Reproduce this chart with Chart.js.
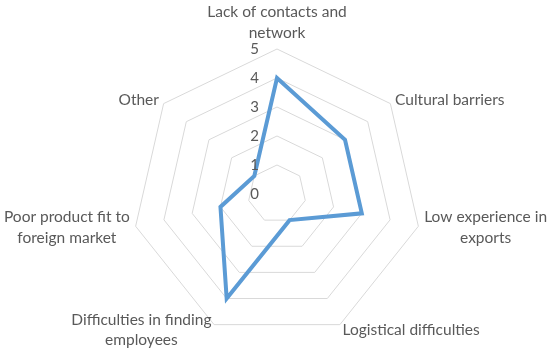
<!DOCTYPE html>
<html>
<head>
<meta charset="utf-8">
<script src="https://cdn.jsdelivr.net/npm/chart.js@4"></script>
<style>
  html, body { margin: 0; padding: 0; background: #fff; }
  #wrap { width: 550px; height: 351px; }
</style>
</head>
<body>
<div id="wrap"><canvas id="myChart"></canvas></div>
<script>
let categories = [
    ["Lack of contacts and", "network"],
    "Cultural barriers",
    ["Low experience in", "exports"],
    "Logistical difficulties",
    ["Difficulties in finding", "employees"],
    ["Poor product fit to", "foreign market"],
    "Other"
];
let scores = [4, 3, 3, 1, 4, 2, 1];
let tickValues = [0, 1, 2, 3, 4, 5];

let fontName = "Lato";
let textColor = "#595959";

// category labels, placed next to the outer ring (centred lines like Excel)
const sideLabels = {
    id: "sideLabels",
    afterDraw(chart) {
        const scale = chart.scales.r;
        const ctx = chart.ctx;
        const lineH = 20.5;
        ctx.save();
        ctx.font = "15.5px " + fontName;
        ctx.fillStyle = textColor;
        ctx.textAlign = "center";
        ctx.textBaseline = "middle";
        chart.data.labels.forEach((lab, i) => {
            const lines = [].concat(lab);
            const pos = scale.getPointPosition(i, scale.drawingArea + 6);
            const w = Math.max(...lines.map(l => ctx.measureText(l).width));
            const h = lines.length * lineH;
            const dx = pos.x - scale.xCenter;
            let cx = pos.x;
            if (dx > 1) cx = pos.x + w / 2;
            else if (dx < -1) cx = pos.x - w / 2;
            let top = pos.y - h / 2;
            if (Math.abs(dx) <= 1 && pos.y < scale.yCenter) top = pos.y - h;
            lines.forEach((l, k) => ctx.fillText(l, cx, top + lineH * (k + 0.5)));
        });
        ctx.restore();
    }
};

new Chart("myChart", {
    type: "radar",
    data: {
        labels: categories,
        datasets: [{
            data: scores,
            borderColor: "#5B9BD5",
            borderWidth: 4,
            fill: false,
            pointRadius: 0,
            pointHoverRadius: 0
        }]
    },
    options: {
        responsive: true,
        maintainAspectRatio: false,
        animation: false,
        events: [],
        layout: { padding: { top: 42, bottom: 4, left: 4, right: 0 } },
        plugins: {
            legend: { display: false },
            tooltip: { enabled: false }
        },
        scales: {
            r: {
                min: -0.0001,
                max: 5,
                afterBuildTicks: function (scale) {
                    scale.ticks = tickValues.map(v => ({ value: v }));
                },
                angleLines: { display: false },
                grid: {
                    color: c => c.index === 0 ? "rgba(0,0,0,0)" : "#D9D9D9",
                    lineWidth: 1
                },
                ticks: {
                    showLabelBackdrop: false,
                    backdropPadding: 0,
                    color: textColor,
                    font: { family: fontName, size: 15 },
                    callback: v => v + "\u2003\u2003\u2003\u2003",
                    z: 1
                },
                pointLabels: { display: false }
            }
        }
    },
    plugins: [sideLabels]
});
</script>
</body>
</html>
